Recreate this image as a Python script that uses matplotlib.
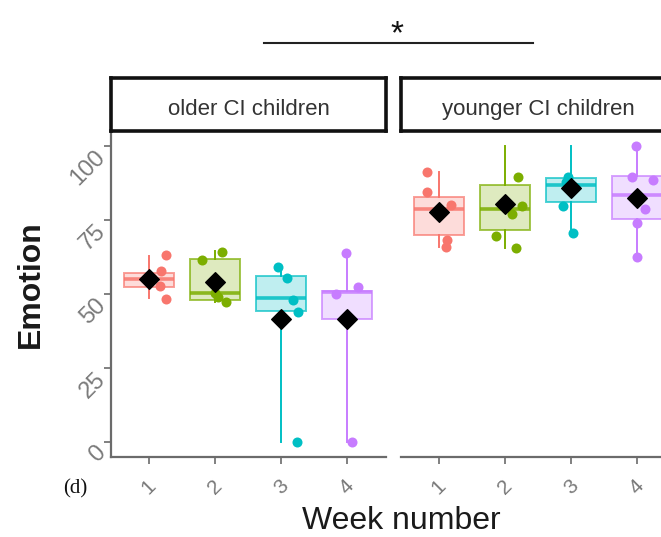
import matplotlib.pyplot as plt
import matplotlib.font_manager as fm
from matplotlib.patches import Rectangle

W, H = 661, 537

weeks = ["1", "2", "3", "4"]
colors = ["#F8766D", "#7CAE00", "#00BFC4", "#C77CFF"]
panels = ["older CI children", "younger CI children"]
yticks = [0, 25, 50, 75, 100]

# box stats per panel, per week: (whisker low, q1, median, q3, whisker high)
older_box = [
    (48.5, 52.5, 55.0, 57.2, 62.8),
    (47.4, 48.0, 50.4, 61.7, 64.5),
    (0.0, 44.4, 48.5, 56.2, 59.2),
    (0.0, 41.4, 50.8, 51.1, 64.0),
]
younger_box = [
    (66.0, 70.1, 78.6, 82.9, 91.3),
    (65.6, 71.6, 78.6, 86.8, 100.0),
    (70.7, 81.2, 86.8, 89.3, 100.0),
    (62.6, 75.3, 83.4, 89.9, 100.0),
]
older_mean = [55.0, 53.9, 41.4, 41.4]
younger_mean = [77.8, 80.4, 85.7, 82.3]

# individual scores, with the horizontal jitter
older_pts = [
    [63.2, 57.9, 55.5, 52.8, 48.2],
    [61.5, 64.3, 50.5, 49.0, 47.4],
    [59.2, 55.3, 48.0, 44.0, 0.0],
    [64.0, 52.5, 50.0, 41.0, 0.0],
]
older_jit = [
    [0.25, 0.18, 0.05, 0.16, 0.25],
    [-0.19, 0.10, 0.00, 0.05, 0.17],
    [-0.05, 0.09, 0.18, 0.25, 0.24],
    [-0.02, 0.16, -0.17, 0.00, 0.08],
]
younger_pts = [
    [91.3, 84.6, 80.1, 68.2, 66.0],
    [89.5, 79.7, 77.0, 69.6, 65.5],
    [89.5, 88.0, 86.0, 79.7, 70.7],
    [100.0, 89.5, 88.6, 78.6, 73.9, 62.6],
]
younger_jit = [
    [-0.18, -0.18, 0.18, 0.12, 0.11],
    [0.19, 0.25, 0.11, -0.14, 0.17],
    [-0.05, -0.08, 0.06, -0.12, 0.03],
    [-0.02, -0.07, 0.24, 0.12, 0.00, 0.00],
]

names = {f.name for f in fm.fontManager.ttflist}
narrow = "Liberation Sans Narrow" if "Liberation Sans Narrow" in names else "Liberation Sans"
plt.rcParams["font.family"] = ["Liberation Sans", "DejaVu Sans"]

fig = plt.figure(figsize=(W / 100, H / 100), dpi=100)
axis_grey = "#6b6b6b"
tick_grey = "#7a7a7a"


def px(x0, y0, x1, y1):
    return [x0 / W, 1 - y1 / H, (x1 - x0) / W, (y1 - y0) / H]


def draw_panel(ax, boxes, means, pts, jit):
    pos = range(1, 5)
    stats = [
        dict(whislo=b[0], q1=b[1], med=b[2], q3=b[3], whishi=b[4], fliers=[])
        for b in boxes
    ]
    bp = ax.bxp(stats, positions=pos, widths=0.75, patch_artist=True,
                showcaps=False, showfliers=False)
    for i, c in enumerate(colors):
        bp["boxes"][i].set(facecolor=c, alpha=0.25, edgecolor="none")
        ax.add_patch(Rectangle((i + 1 - 0.375, boxes[i][1]), 0.75,
                               boxes[i][3] - boxes[i][1], fill=False,
                               edgecolor=c, lw=1.4, alpha=0.7, zorder=2))
        bp["medians"][i].set(color=c, lw=2.6, alpha=0.85)
        for w in bp["whiskers"][2 * i:2 * i + 2]:
            w.set(color=c, lw=1.4)
        xs = [i + 1 + j for j in jit[i]]
        ax.scatter(xs, pts[i], s=52, color=c, zorder=3, linewidths=0)
    ax.scatter(list(pos), means, marker="D", s=100, color="black", zorder=4)
    ax.set_xlim(0.424, 4.59)
    ax.set_ylim(-5.07, 105.07)
    ax.set_xticks(list(pos))
    ax.set_xticklabels(weeks, rotation=45, fontsize=15, color=tick_grey,
                       family=narrow)
    for s in ["top", "right"]:
        ax.spines[s].set_visible(False)
    ax.spines["bottom"].set(color=axis_grey, lw=1.6)
    ax.tick_params(axis="x", length=5, width=1.2, color=axis_grey, pad=9)
    ax.tick_params(axis="y", length=5, width=1.2, color=axis_grey, pad=7)


ax1 = fig.add_axes(px(111, 131, 386, 457))
draw_panel(ax1, older_box, older_mean, older_pts, older_jit)
ax1.spines["left"].set(color=axis_grey, lw=1.6)
ax1.set_yticks(yticks)
ax1.set_yticklabels([str(v) for v in yticks], rotation=45, fontsize=17,
                    color=tick_grey, family=narrow, ha="right", va="top",
                    rotation_mode="anchor")

ax2 = fig.add_axes(px(401, 131, 676, 457))
draw_panel(ax2, younger_box, younger_mean, younger_pts, younger_jit)
ax2.spines["left"].set_visible(False)
ax2.set_yticks([])

# facet strips
for (x0, x1), label in zip([(111, 386), (401, 676)], panels):
    sax = fig.add_axes(px(x0, 78, x1, 131))
    sax.set_xticks([])
    sax.set_yticks([])
    for s in sax.spines.values():
        s.set(lw=2.6, color="#111111")
    sax.text(0.5, 0.41, label, ha="center", va="center", fontsize=16,
             family=narrow, color="#333333", transform=sax.transAxes)

# significance bar
fig.add_artist(plt.Line2D([264 / W, 533 / W], [1 - 43 / H, 1 - 43 / H],
                          color="#222222", lw=1.5))
fig.text(397 / W, 1 - 35 / H, "*", ha="center", va="center", fontsize=24,
         color="#111111")

fig.text(401 / W, 1 - 521 / H, "Week number", ha="center", va="center",
         fontsize=23, color="#1a1a1a")
fig.text(31 / W, 1 - 284 / H, "Emotion", ha="center", va="center",
         rotation=90, fontsize=23, fontweight="bold", color="#1a1a1a")
fig.text(75 / W, 1 - 489 / H, "(d)", ha="center", va="center", fontsize=15,
         family=["Liberation Serif", "DejaVu Serif"], color="#111111")

fig.savefig("out.png", dpi=100)
